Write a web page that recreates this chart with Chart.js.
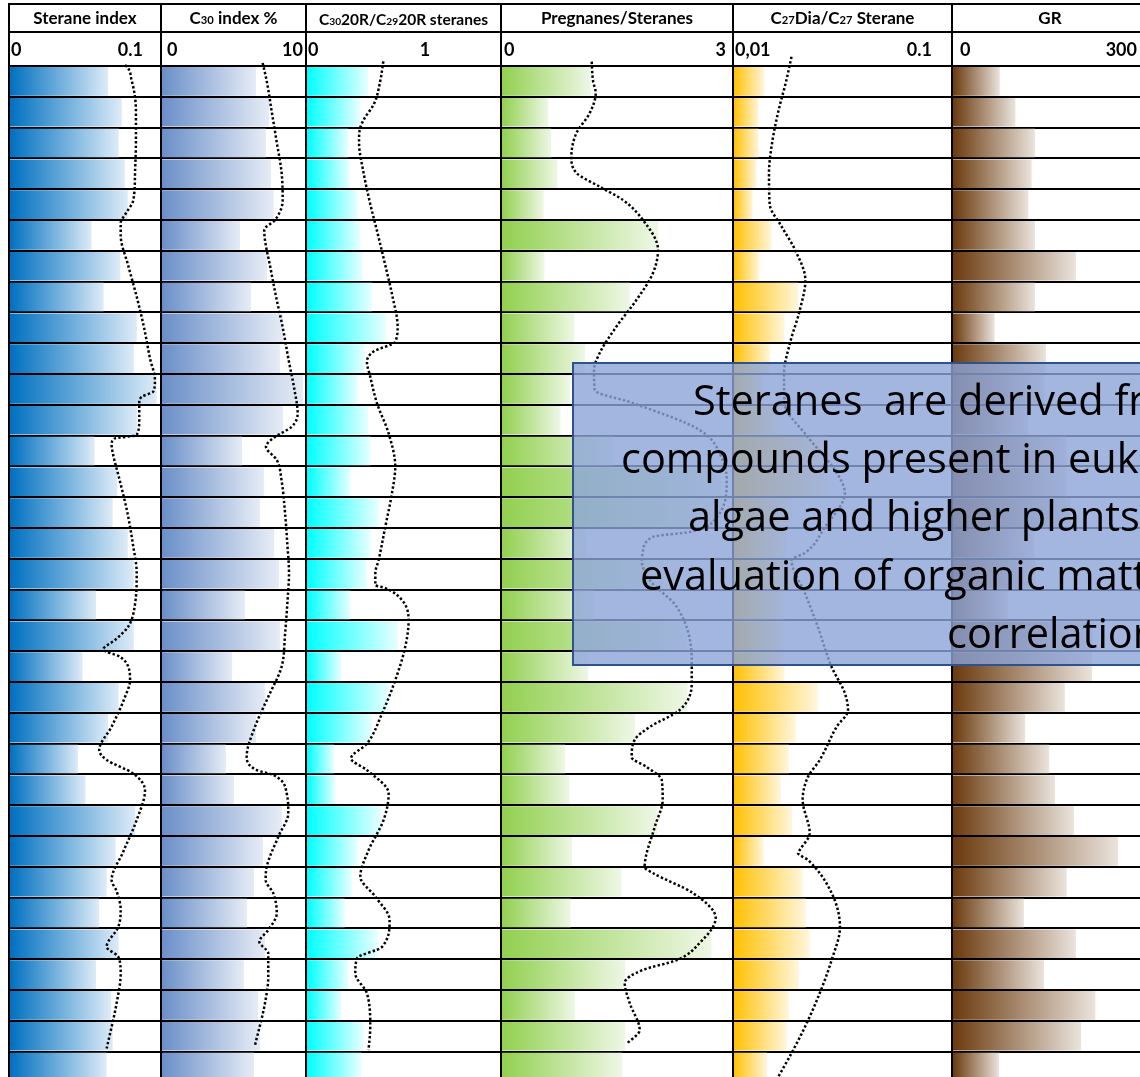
<!DOCTYPE html>
<html><head><meta charset="utf-8">
<script src="https://cdn.jsdelivr.net/npm/chart.js@4.4.0/dist/chart.umd.min.js"></script>
<style>
html,body{margin:0;padding:0;background:#fff;overflow:hidden;width:1140px;height:1077px;}
#wrap{position:relative;width:1140px;height:1077px;overflow:hidden;background:#fff;}
canvas{position:absolute;}
.ln{position:absolute;background:#000;z-index:5;}
.title{position:absolute;top:7px;font:bold 17px Lato,'Open Sans',sans-serif;text-align:center;white-space:nowrap;z-index:6;line-height:22px;}
.s{font-size:0.66em;}
.scl{position:absolute;top:38px;font:bold 18px Lato,'Open Sans',sans-serif;white-space:nowrap;z-index:6;line-height:22px;}
#box{position:absolute;left:572px;top:362px;width:720px;height:304px;box-sizing:border-box;background:rgba(140,164,216,0.8);border:2px solid #2F528F;z-index:10;}
.bt{position:absolute;font:41.5px 'Open Sans',sans-serif;line-height:40px;white-space:pre;color:#000;z-index:11;}
</style>
</head><body><div id="wrap"></div>
<script>
// ---------------- DATA ----------------
const rowLabels = ['1','2','3','4','5','6','7','8','9','10','11','12','13','14','15','16','17','18','19','20','21','22','23','24','25','26','27','28','29','30','31','32','33'];

const panelTitles = ['Sterane index','C<span class="s">30</span> index %','C<span class="s">30</span>20R/C<span class="s">29</span>20R steranes','Pregnanes/Steranes','C<span class="s">27</span>Dia/C<span class="s">27</span> Sterane','GR'];
const scaleMinLabels = ['0','0','0','0','0,01','0'];
const scaleMaxLabels = ['0.1','10','1','3','0.1','300'];

const steraneIndex = [0.065,0.074,0.072,0.076,0.078,0.054,0.073,0.062,0.084,0.082,0.097,0.084,0.056,0.071,0.068,0.078,0.082,0.057,0.082,0.048,0.072,0.065,0.045,0.050,0.083,0.070,0.064,0.059,0.072,0.057,0.067,0.068,0.064];
const steraneTrendDepth = [-0.19,-0.03,0.48,1.48,2.48,3.48,4.35,4.78,5.1,5.49,6.48,7.49,8.48,9.49,10.2,10.57,10.74,10.95,11.49,11.98,12.1,12.3,12.55,13.48,14.49,15.5,16.47,17.47,18.2,18.64,18.94,19.18,19.5,19.94,20.48,21.45,22.21,22.53,22.97,23.51,24.48,25.51,26.43,26.79,27.4,27.95,28.6,28.92,29.46,30.43,31.9];
const steraneTrend = [0.0695,0.0762,0.0806,0.0834,0.0834,0.0828,0.0817,0.0768,0.0733,0.0733,0.0783,0.0839,0.0887,0.0927,0.0960,0.0949,0.0872,0.0856,0.0856,0.0839,0.0690,0.0673,0.0680,0.0728,0.0777,0.0813,0.0839,0.0828,0.0783,0.0695,0.0618,0.0728,0.0783,0.0795,0.0762,0.0673,0.0591,0.0640,0.0816,0.0894,0.0839,0.0750,0.0673,0.0706,0.0733,0.0717,0.0640,0.0717,0.0733,0.0706,0.0640];

const c30Index = [6.53,7.43,7.22,7.57,7.76,5.42,7.29,6.18,8.40,8.19,9.79,8.40,5.56,7.08,6.81,7.78,8.13,5.76,8.19,4.86,7.15,6.53,4.44,5.00,8.33,7.01,6.39,5.90,7.15,5.69,6.67,6.81,6.39];
const c30TrendDepth = [-0.1,0.48,1.48,2.48,3.48,4.35,5.0,5.32,5.65,6.48,7.49,8.48,9.49,10.49,11.28,11.71,12.08,12.36,12.79,13.48,14.49,15.5,16.47,17.47,18.48,19.5,20.48,21.45,22.43,22.86,23.02,23.62,24.26,25.02,26.0,26.43,26.86,27.51,28.05,28.43,28.81,29.57,30.43,31.79];
const c30Trend = [6.99,7.27,7.62,7.97,8.31,8.38,7.85,7.10,7.15,7.50,7.92,8.38,8.77,9.19,9.42,9.01,7.73,7.22,7.97,8.31,8.54,8.70,8.82,8.70,8.54,8.31,7.38,6.46,5.88,6.58,7.73,8.66,8.77,8.08,7.27,7.20,7.73,7.97,7.38,6.76,7.38,7.38,7.15,6.46];

const c30c29Ratio = [0.52,0.45,0.35,0.36,0.43,0.45,0.47,0.55,0.67,0.49,0.43,0.52,0.54,0.37,0.61,0.54,0.51,0.37,0.77,0.29,0.69,0.55,0.23,0.24,0.63,0.43,0.38,0.32,0.60,0.35,0.29,0.48,0.46];
const ratioTrendDepth = [-0.15,0.48,1.21,1.75,2.08,2.48,3.48,4.48,5.49,6.48,7.49,8.46,8.95,9.27,9.6,10.09,10.95,11.93,13.01,13.87,14.95,16.04,16.47,16.85,16.95,17.34,17.99,18.85,19.94,21.02,22.0,22.48,22.86,23.62,24.48,25.46,26.32,26.97,27.73,28.6,28.97,29.46,30.11,31.19,31.95];
const ratioTrend = [0.647,0.621,0.570,0.480,0.446,0.441,0.480,0.536,0.602,0.664,0.725,0.768,0.748,0.564,0.508,0.536,0.593,0.692,0.748,0.720,0.664,0.607,0.579,0.579,0.664,0.805,0.861,0.833,0.748,0.636,0.508,0.373,0.508,0.692,0.649,0.522,0.452,0.579,0.700,0.636,0.424,0.409,0.508,0.536,0.522];

const pregnanes = [1.15,0.60,0.64,0.72,0.54,2.03,0.55,1.66,0.94,1.08,0.88,0.76,1.45,2.85,2.85,1.10,2.10,1.20,2.40,1.12,2.41,1.73,0.82,0.875,2.02,0.91,1.55,0.89,2.72,1.60,0.95,1.60,1.56];
const pregTrendDepth = [-0.14,0.48,0.88,1.53,2.18,2.94,3.47,3.92,4.35,5.0,5.97,6.72,7.6,8.46,9.32,9.87,10.52,10.94,11.82,12.79,13.44,14.74,15.13,15.29,15.81,16.04,16.69,17.56,19.29,20.03,20.91,21.46,21.88,22.44,22.76,23.18,23.83,24.71,26.01,26.2,26.85,27.66,28.47,29.03,29.35,29.77,30.42,31.3,31.72];
const pregTrend = [1.165,1.182,1.217,1.139,0.966,0.901,0.966,1.269,1.571,1.831,2.026,1.961,1.745,1.486,1.269,1.195,1.204,1.697,2.568,2.866,2.918,2.762,2.437,1.957,1.827,1.814,1.918,2.269,2.464,2.464,2.308,1.918,1.723,1.684,1.879,2.074,2.087,1.983,1.853,1.957,2.477,2.775,2.568,2.269,1.827,1.594,1.658,1.788,1.632];

const diaSterane = [0.0139,0.0131,0.0131,0.0128,0.0123,0.0150,0.0132,0.0199,0.0172,0.0148,0.0138,0.0163,0.0270,0.0270,0.0185,0.0175,0.0191,0.0172,0.0172,0.0172,0.0244,0.0194,0.0180,0.0165,0.0186,0.0138,0.0208,0.0215,0.0224,0.0200,0.0180,0.0176,0.0143];
const diaTrendDepth = [-0.3,0.48,1.48,2.48,3.48,4.48,5.22,5.97,6.95,7.92,9.0,9.98,10.94,12.05,13.12,13.86,14.97,15.81,16.04,17.11,18.21,19.51,20.36,20.91,21.46,22.53,23.08,23.83,24.9,25.45,25.55,25.78,26.85,27.95,29.03,30.1,31.2,32.05,32.82];
const diaTrend = [0.0185,0.0175,0.0161,0.0151,0.0146,0.0147,0.0167,0.0192,0.0214,0.0202,0.0182,0.0171,0.0172,0.0220,0.0292,0.0324,0.0263,0.0213,0.0185,0.0213,0.0244,0.0282,0.0324,0.0335,0.0297,0.0249,0.0220,0.0208,0.0224,0.0202,0.0198,0.0220,0.0282,0.0308,0.0282,0.0249,0.0213,0.0185,0.0161];

const gammaRay = [72,96,126,121,116,126,189,126,64,143,141,116,175,175,181,125,127,85,215,214,172,111,148,157,186,254,175,109,189,140,219,197,71];

// ---------------- LAYOUT ----------------
const wrap = document.getElementById('wrap');
const dividers = [9,161,306,501,733,952];
const panels = [
  {left:10,right:161,type:'linear',min:0,max:0.1,bars:steraneIndex,cd:steraneTrendDepth,cv:steraneTrend,colors:['#0070C0','#DDEBF7']},
  {left:162,right:306,type:'linear',min:0,max:10,bars:c30Index,cd:c30TrendDepth,cv:c30Trend,colors:['#6A8FC8','#E6ECF6']},
  {left:307,right:501,type:'linear',min:0,max:1.644,bars:c30c29Ratio,cd:ratioTrendDepth,cv:ratioTrend,colors:['#00FFFF','#E8FFFF']},
  {left:502,right:733,type:'linear',min:0,max:3,bars:pregnanes,cd:pregTrendDepth,cv:pregTrend,colors:['#92D050','#EEF7E5']},
  {left:733,right:952,type:'logarithmic',min:0.01,max:0.1,bars:diaSterane,cd:diaTrendDepth,cv:diaTrend,colors:['#FFC000','#FFF6DC']},
  {left:953,right:1148,type:'linear',min:0,max:300,bars:gammaRay,cd:null,cv:null,colors:['#6B3A0E','#EAE3DC']}
];

function addLine(x,y,w,h){const d=document.createElement('div');d.className='ln';d.style.left=x+'px';d.style.top=y+'px';d.style.width=w+'px';d.style.height=h+'px';wrap.appendChild(d);}
addLine(8,3,1140,2);
addLine(8,31,1140,2);
dividers.forEach(x=>addLine(x-1,3,2,1080));

const titleRanges=[[9,161],[161,306],[306,501],[501,733],[733,952],[952,1148]];
const minLeft=[11,167,308,504,735,960];
const maxPos=[{right:143},{right:303},{center:425},{right:726},{right:932},{right:1137}];
titleRanges.forEach((r,i)=>{
  const t=document.createElement('div');t.className='title';t.innerHTML=panelTitles[i];
  t.style.left=r[0]+'px';t.style.width=(r[1]-r[0])+'px';
  if(i===2){t.style.fontSize='15.5px';t.style.top='8px';}
  wrap.appendChild(t);
  const a=document.createElement('div');a.className='scl';a.textContent=scaleMinLabels[i];a.style.left=minLeft[i]+'px';wrap.appendChild(a);
  const b=document.createElement('div');b.className='scl';b.textContent=scaleMaxLabels[i];
  if(maxPos[i].right!==undefined){b.style.right=(1140-maxPos[i].right)+'px';}
  else{b.style.left=(maxPos[i].center-30)+'px';b.style.width='60px';b.style.textAlign='center';}
  wrap.appendChild(b);
});

panels.forEach(p=>{
  const cv=document.createElement('canvas');
  const w=p.right-p.left;
  cv.width=w;cv.height=1050;cv.style.width=w+'px';cv.style.height='1050px';
  cv.style.left=p.left+'px';cv.style.top='36px';
  wrap.appendChild(cv);
  const datasets=[{
    type:'bar',data:p.bars,xAxisID:'x',yAxisID:'y',order:2,borderWidth:0,grouped:false,
    barPercentage:0.93,categoryPercentage:1,
    backgroundColor:(c)=>{
      if(c.type!=='data'||!c.chart.chartArea) return p.colors[0];
      const sx=c.chart.scales.x;const x0=sx.getPixelForValue(p.min);const x1=sx.getPixelForValue(c.raw);
      const g=c.chart.ctx.createLinearGradient(x0,0,Math.max(x1,x0+1),0);
      g.addColorStop(0,p.colors[0]);g.addColorStop(1,p.colors[1]);return g;
    }
  }];
  if(p.type==='logarithmic') datasets[0].base=p.min;
  if(p.cd){
    datasets.push({type:'line',data:p.cd.map((d,i)=>({x:p.cv[i],y:d})),xAxisID:'x',yAxisID:'yd',order:1,
      borderColor:'#000',borderWidth:2.5,borderDash:[2.4,2.2],pointRadius:0,cubicInterpolationMode:'monotone',clip:false,fill:false});
  }
  new Chart(cv,{type:'bar',data:{labels:rowLabels,datasets},options:{
    indexAxis:'y',responsive:false,animation:false,devicePixelRatio:1,
    layout:{padding:{top:30,bottom:3.6,left:0,right:0}},
    plugins:{legend:{display:false},tooltip:{enabled:false}},
    scales:{
      x:{type:p.type,min:p.min,max:p.max,display:false,offset:false},
      y:{type:'category',display:true,offset:true,ticks:{display:false},grid:{offset:true,color:'#000',lineWidth:2,drawTicks:false},border:{display:false}},
      yd:{type:'linear',min:0,max:33,reverse:true,display:false,offset:false,grid:{offset:false}}
    }
  }});
});

// overlay note
const box=document.createElement('div');box.id='box';wrap.appendChild(box);
const noteLines=['Steranes  are derived from','compounds present in eukaryotic','algae and higher plants','evaluation of organic matter','correlation'];
const noteLeft=[693,621,688,640,947];
const noteTop=[379,437,495,554,612];
noteLines.forEach((s,i)=>{const d=document.createElement('div');d.className='bt';d.textContent=s;d.style.left=noteLeft[i]+'px';d.style.top=noteTop[i]+'px';wrap.appendChild(d);});
</script>
</body></html>
